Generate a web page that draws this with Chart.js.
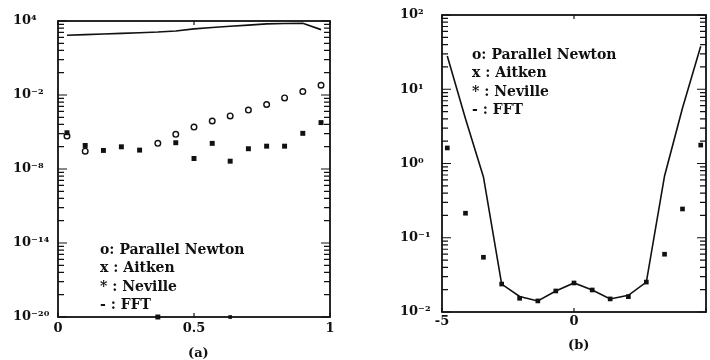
<!DOCTYPE html>
<html>
<head>
<meta charset="utf-8">
<script src="https://cdn.jsdelivr.net/npm/chart.js@4/dist/chart.umd.min.js"></script>
<style>
  body { margin: 0; background: #fff; width: 710px; height: 360px; overflow: hidden; position: relative; }
  .panel { position: absolute; top: 0; height: 345px; }
  .txt { position: absolute; font: bold 14px "DejaVu Serif", serif; color: #111; white-space: nowrap; line-height: 18.3px; }
  .cap { position: absolute; font: bold 13px "DejaVu Serif", serif; color: #111; white-space: nowrap; }
</style>
</head>
<body>
<div class="panel" style="left:0;width:345px"><canvas id="chartA"></canvas></div>
<div class="panel" style="left:355px;width:355px"><canvas id="chartB"></canvas></div>

<div class="txt" style="left:100px;top:240px">o: Parallel Newton<br>x : Aitken<br>* : Neville<br>- : FFT</div>
<div class="txt" style="left:472px;top:45px">o: Parallel Newton<br>x : Aitken<br>* : Neville<br>- : FFT</div>
<div class="cap" style="left:188px;top:345px">(a)</div>
<div class="cap" style="left:568px;top:337px">(b)</div>

<script>
// panel (a)
const xA = [0.033, 0.1, 0.167, 0.233, 0.3, 0.367, 0.433, 0.5, 0.567, 0.633, 0.7, 0.767, 0.833, 0.9, 0.967];
const newtonA = [4.7e-6, 2.8e-7, null, null, null, 1.2e-6, 6.5e-6, 2.5e-5, 7.8e-5, 2.0e-4, 6.0e-4, 1.7e-3, 5.8e-3, 1.9e-2, 6.2e-2];
const nevilleA = [8.7e-6, 8.1e-7, 3.2e-7, 6.3e-7, 3.4e-7, 1e-20, 1.35e-6, 7.1e-8, 1.2e-6, 4.3e-8, 4.4e-7, 7.1e-7, 7.1e-7, 7.8e-6, 5.8e-5];
const aitkenA = [null, null, null, null, null, null, null, null, null, 1e-20, null, null, null, null, null];
const fftA = [690, 790, 880, 1000, 1120, 1270, 1550, 2300, 3000, 3800, 4600, 5800, 6300, 6600, 2000];
const majorA = [1e-20, 1e-14, 1e-8, 1e-2, 1e4];
const majorLabelA = ['10⁻²⁰', '10⁻¹⁴', '10⁻⁸', '10⁻²', '10⁴'];

// panel (b)
const xB = [-4.8, -4.11, -3.43, -2.74, -2.06, -1.37, -0.69, 0, 0.69, 1.37, 2.06, 2.74, 3.43, 4.11, 4.8];
const fftB = [28, 4.0, 0.66, 0.0238, 0.0162, 0.0141, 0.0192, 0.0246, 0.0198, 0.015, 0.0168, 0.0253, 0.68, 5.6, 38];
const nevilleB = [1.62, 0.214, 0.0546, 0.0238, 0.0153, 0.0141, 0.0192, 0.0246, 0.0198, 0.015, 0.0161, 0.0253, 0.060, 0.244, 1.77];
const majorB = [1e-2, 1e-1, 1, 10, 100];
const majorLabelB = ['10⁻²', '10⁻¹', '10⁰', '10¹', '10²'];

Chart.defaults.font.family = '"DejaVu Serif", serif';
Chart.defaults.font.weight = 'bold';
Chart.defaults.font.size = 13;
Chart.defaults.color = '#111';

function pts(xs, ys) {
  return xs.map((x, i) => ({ x: x, y: ys[i] })).filter(p => p.y !== null);
}

// log ticks: majors plus minor marks k*step inside each interval
function logTicks(majors, step) {
  const out = [];
  majors.forEach((m, i) => {
    out.push({ value: m, major: true });
    if (i < majors.length - 1) {
      for (let k = 2; k <= 9; k++) out.push({ value: m * Math.pow(k, step), major: false });
    }
  });
  return out;
}

// frame and inward tick marks, like the printed figure
const frameTicks = {
  id: 'frameTicks',
  afterDatasetsDraw(chart) {
    const { ctx, chartArea: a, scales } = chart;
    ctx.save();
    ctx.strokeStyle = '#111';
    ctx.lineWidth = 1.2;
    ctx.beginPath();
    scales.y.ticks.forEach(t => {
      const y = scales.y.getPixelForValue(t.value);
      const len = t.major ? 9 : 6;
      ctx.moveTo(a.left, y); ctx.lineTo(a.left + len, y);
      ctx.moveTo(a.right, y); ctx.lineTo(a.right - len, y);
    });
    scales.x.ticks.forEach(t => {
      const x = scales.x.getPixelForValue(t.value);
      ctx.moveTo(x, a.bottom); ctx.lineTo(x, a.bottom - 4);
      ctx.moveTo(x, a.top); ctx.lineTo(x, a.top + 4);
    });
    ctx.stroke();
    ctx.lineWidth = 1.8;
    ctx.strokeRect(a.left, a.top, a.right - a.left, a.bottom - a.top);
    ctx.restore();
  }
};

function makeOptions(o) {
  return {
    responsive: true,
    maintainAspectRatio: false,
    animation: false,
    layout: { padding: o.padding },
    plugins: { legend: { display: false }, tooltip: { enabled: false } },
    scales: {
      x: {
        type: 'linear',
        min: o.xmin, max: o.xmax,
        grid: { display: false, drawTicks: false },
        border: { display: false },
        ticks: {
          stepSize: o.xstep, autoSkip: false, maxRotation: 0, padding: o.xpad,
          callback: v => (v === o.xhide ? '' : String(v))
        },
        afterFit: s => { s.height = 22; }
      },
      y: {
        type: 'logarithmic',
        min: o.majors[0], max: o.majors[o.majors.length - 1],
        grid: { display: false, drawTicks: false },
        border: { display: false },
        afterBuildTicks: s => { s.ticks = logTicks(o.majors, o.step); },
        ticks: {
          autoSkip: false, crossAlign: 'far', padding: 0,
          callback: v => {
            const i = o.majors.indexOf(v);
            return i >= 0 ? o.labels[i] : '';
          }
        },
        afterFit: s => { s.width = o.ywidth; }
      }
    }
  };
}

new Chart(document.getElementById('chartA'), {
  type: 'line',
  data: {
    datasets: [
      { label: 'Neville', data: pts(xA, nevilleA), showLine: false, pointStyle: 'rect', pointRadius: 3.5,
        backgroundColor: '#111', borderColor: '#111', borderWidth: 0, clip: false },
      { label: 'Aitken', data: pts(xA, aitkenA), showLine: false, pointStyle: 'rect', pointRadius: 2.6,
        backgroundColor: '#111', borderColor: '#111', borderWidth: 0, clip: false },
      { label: 'Parallel Newton', data: pts(xA, newtonA), showLine: false, pointStyle: 'circle', pointRadius: 2.8,
        backgroundColor: '#fff', borderColor: '#111', borderWidth: 1.4, clip: false },
      { label: 'FFT', data: pts(xA, fftA), borderColor: '#111', borderWidth: 1.6, pointRadius: 0,
        tension: 0, fill: false }
    ]
  },
  options: makeOptions({
    padding: { left: 13, right: 15, top: 21, bottom: 6 },
    xmin: 0, xmax: 1, xstep: 0.5, xpad: 4, xhide: null,
    majors: majorA, labels: majorLabelA, step: 6, ywidth: 45
  }),
  plugins: [frameTicks]
});

new Chart(document.getElementById('chartB'), {
  type: 'line',
  data: {
    datasets: [
      { label: 'Neville', data: pts(xB, nevilleB), showLine: false, pointStyle: 'rect', pointRadius: 3.3,
        backgroundColor: '#111', borderColor: '#111', borderWidth: 0, clip: false },
      { label: 'FFT', data: pts(xB, fftB), borderColor: '#111', borderWidth: 1.6, pointRadius: 0,
        tension: 0, fill: false }
    ]
  },
  options: makeOptions({
    padding: { left: 45, right: 2, top: 15, bottom: 11 },
    xmin: -5, xmax: 5, xstep: 5, xpad: 2, xhide: 5,
    majors: majorB, labels: majorLabelB, step: 1, ywidth: 42
  }),
  plugins: [frameTicks]
});
</script>
</body>
</html>
